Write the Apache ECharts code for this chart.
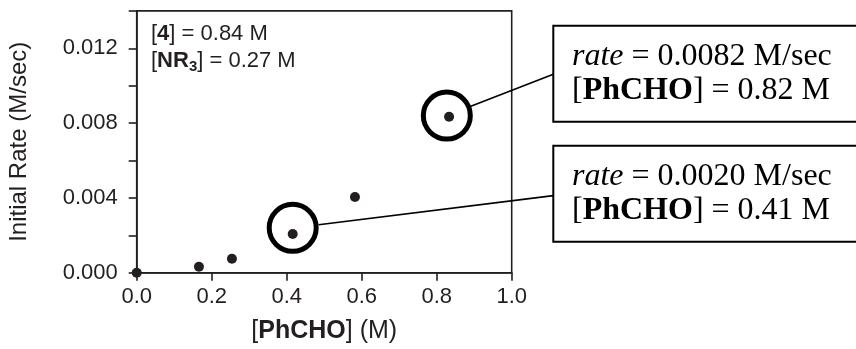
<!DOCTYPE html>
<html>
<head>
<meta charset="utf-8">
<script src="https://cdn.jsdelivr.net/npm/echarts@6/dist/echarts.min.js"></script>
<style>
  html, body { margin: 0; padding: 0; background: #fff; }
  #chart { width: 856px; height: 349px; }
</style>
</head>
<body>
<div id="chart"></div>
<script>
// measured points: [PhCHO] (M) vs initial rate (M/sec)
const concPhCHO = [0.0, 0.166, 0.254, 0.416, 0.582, 0.833];
const initRate = [0.0, 0.00032, 0.00075, 0.00207, 0.00405, 0.00834];

// highlighted points (circle centres)
const circleX = [0.416, 0.827];
const circleY = [0.0024, 0.0084];

// leader lines, circle edge -> box edge (data coords)
const lineLow = [[0.485, 0.00256], [1.111, 0.00412]];
const lineHigh = [[0.891, 0.0089], [1.111, 0.01061]];

const yLabelTicks = [0, 0.004, 0.008, 0.012];

const ink = "#231f20";
const sans = "Arial, 'Liberation Sans', sans-serif";
const serif = "'Times New Roman', 'Liberation Serif', serif";

const chart = echarts.init(document.getElementById("chart"));

const serifRich = {
  i: { fontFamily: serif, fontSize: 32, fontStyle: "italic", lineHeight: 34, fill: "#000" },
  b: { fontFamily: serif, fontSize: 32, fontWeight: "bold", lineHeight: 34, fill: "#000" },
  n: { fontFamily: serif, fontSize: 32, lineHeight: 34, fill: "#000" }
};

chart.setOption({
  animation: false,
  grid: {
    left: 136.7,
    right: 344.3,
    top: 10.9,
    bottom: 76.3,
    show: true,
    borderColor: ink,
    borderWidth: 1.6,
    backgroundColor: "transparent"
  },
  xAxis: {
    type: "value",
    min: 0,
    max: 1,
    interval: 0.2,
    name: "{n|[}{b|PhCHO}{n|] (M)}",
    nameLocation: "middle",
    nameGap: 46,
    nameTextStyle: {
      rich: {
        n: { fontFamily: sans, fontSize: 25, color: ink },
        b: { fontFamily: sans, fontSize: 25, fontWeight: "bold", color: ink }
      }
    },
    axisLine: { lineStyle: { color: ink, width: 1.6 } },
    axisTick: { inside: false, length: 8, lineStyle: { color: ink, width: 1.6 } },
    axisLabel: {
      margin: 13,
      fontFamily: sans,
      fontSize: 22,
      color: ink,
      formatter: (v) => v.toFixed(1)
    },
    splitLine: { show: false }
  },
  yAxis: {
    type: "value",
    min: 0,
    max: 0.014,
    interval: 0.002,
    name: "Initial Rate (M/sec)",
    nameLocation: "middle",
    nameGap: 105,
    nameTextStyle: { fontFamily: sans, fontSize: 24, color: ink },
    axisLine: { show: true, lineStyle: { color: ink, width: 1.6 } },
    axisTick: { inside: false, length: 8, lineStyle: { color: ink, width: 1.6 } },
    axisLabel: {
      margin: 19,
      fontFamily: sans,
      fontSize: 22,
      color: ink,
      formatter: (v) =>
        yLabelTicks.some((t) => Math.abs(t - v) < 1e-9) ? v.toFixed(3) : ""
    },
    splitLine: { show: false }
  },
  series: [
    {
      name: "rate",
      type: "scatter",
      symbol: "circle",
      symbolSize: 10,
      itemStyle: { color: ink, opacity: 1 },
      clip: false,
      data: concPhCHO.map((x, i) => [x, initRate[i]]),
      z: 3
    },
    {
      name: "highlight",
      type: "scatter",
      symbol: "circle",
      symbolSize: 47,
      itemStyle: { color: "transparent", borderColor: "#000", borderWidth: 5, opacity: 1 },
      clip: false,
      data: circleX.map((x, i) => [x, circleY[i]]),
      z: 2
    }
  ]
});

// leader lines go past the grid, so draw them as graphics placed by the axes
const toPx = (pt) => chart.convertToPixel({ gridIndex: 0 }, pt);
const leader = (seg) => {
  const a = toPx(seg[0]);
  const b = toPx(seg[1]);
  return {
    type: "line",
    shape: { x1: a[0], y1: a[1], x2: b[0], y2: b[1] },
    style: { stroke: "#000", lineWidth: 1.6 },
    z: 5
  };
};

chart.setOption({
  graphic: [
    {
      type: "text",
      left: 151,
      top: 23,
      style: {
        text: "{n|[}{b|4}{n|] = 0.84 M}\n{n|[}{b|NR}{s|3}{n|] = 0.27 M}",
        rich: {
          n: { fontFamily: sans, fontSize: 22, fill: ink, lineHeight: 27 },
          b: { fontFamily: sans, fontSize: 22, fontWeight: "bold", fill: ink, lineHeight: 27 },
          s: { fontFamily: sans, fontSize: 15, fontWeight: "bold", fill: ink, lineHeight: 27, verticalAlign: "bottom", padding: [11, 0, 0, 0] }
        }
      }
    },
    leader(lineLow),
    leader(lineHigh),
    {
      type: "rect",
      shape: { x: 553.3, y: 25.7, width: 320, height: 96 },
      style: { fill: "#fff", stroke: "#000", lineWidth: 2 },
      z: 6
    },
    {
      type: "rect",
      shape: { x: 553.3, y: 145.7, width: 320, height: 96 },
      style: { fill: "#fff", stroke: "#000", lineWidth: 2 },
      z: 6
    },
    {
      type: "text",
      x: 572,
      y: 40,
      z: 7,
      style: {
        text: "{i|rate}{n| = 0.0082 M/sec}\n{n|[}{b|PhCHO}{n|] = 0.82 M}",
        rich: serifRich
      }
    },
    {
      type: "text",
      x: 572,
      y: 160,
      z: 7,
      style: {
        text: "{i|rate}{n| = 0.0020 M/sec}\n{n|[}{b|PhCHO}{n|] = 0.41 M}",
        rich: serifRich
      }
    }
  ]
});
</script>
</body>
</html>
